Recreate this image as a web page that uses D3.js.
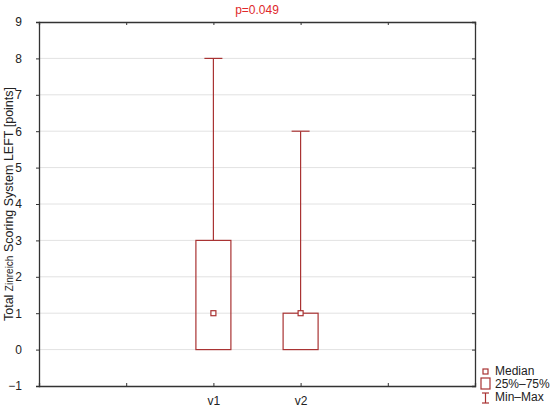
<!DOCTYPE html>
<html>
<head>
<meta charset="utf-8">
<script src="https://cdn.jsdelivr.net/npm/d3@7"></script>
<style>
  body { margin: 0; background: #fff; }
  text { font-family: Arial, "Liberation Sans", sans-serif; }
</style>
</head>
<body>
<svg id="chart" width="550" height="407"></svg>
<script>
// data
const groups = ['v1', 'v2'];
const mins = [0, 0];
const q1s = [0, 0];
const medians = [1, 1];
const q3s = [3, 1];
const maxs = [8, 6];
const yTicks = [-1, 0, 1, 2, 3, 4, 5, 6, 7, 8, 9];
const pLabel = 'p=0.049';

const svg = d3.select('#chart');
const margin = { top: 22, right: 75, bottom: 21, left: 39 };
const width = 550 - margin.left - margin.right;
const height = 407 - margin.top - margin.bottom;
const boxColor = '#a93333';

// x positions: 5 slots, groups sit on slot 2 and 3
const xScale = d3.scaleLinear().domain([0, 5]).range([0, width]);
const slot = (d, i) => i + 2;

const yScale = d3.scaleLinear().domain([-1, 9]).range([height, 0]);

const g = svg.append('g')
  .attr('transform', `translate(${margin.left}, ${margin.top})`);

// gridlines
g.selectAll('.grid')
  .data(yTicks.slice(1, -1))
  .enter()
  .append('line')
  .attr('x1', 0).attr('x2', width)
  .attr('y1', d => yScale(d)).attr('y2', d => yScale(d))
  .attr('stroke', '#e2e2e2')
  .attr('stroke-width', 1);

// axes
g.append('g')
  .call(d3.axisLeft(yScale).tickValues(yTicks).tickSize(3).tickPadding(14));
const xAxis = g.append('g')
  .attr('transform', `translate(0, ${height})`)
  .call(d3.axisBottom(xScale).tickValues([1, 2, 3, 4]).tickSize(-3).tickPadding(10)
    .tickFormat(d => (d === 2 || d === 3) ? groups[d - 2] : ''));
g.append('g')
  .call(d3.axisTop(xScale).tickValues([1, 2, 3, 4]).tickSize(-3).tickFormat(''));
g.append('g')
  .attr('transform', `translate(${width}, 0)`)
  .call(d3.axisRight(yScale).tickValues(yTicks).tickSize(-3).tickFormat(''));

g.selectAll('.domain').attr('stroke', '#333').attr('stroke-width', 1.3);
g.selectAll('.tick line').attr('stroke', '#333');
g.selectAll('.tick text').attr('font-size', 12).attr('fill', '#222');

// whiskers
const boxes = g.selectAll('.box')
  .data(groups)
  .enter()
  .append('g')
  .attr('class', 'box');

boxes.append('line')
  .attr('x1', (d, i) => xScale(slot(d, i))).attr('x2', (d, i) => xScale(slot(d, i)))
  .attr('y1', (d, i) => yScale(maxs[i])).attr('y2', (d, i) => yScale(q3s[i]))
  .attr('stroke', boxColor).attr('stroke-width', 1.2);
boxes.append('line')
  .attr('x1', (d, i) => xScale(slot(d, i)) - 9).attr('x2', (d, i) => xScale(slot(d, i)) + 9)
  .attr('y1', (d, i) => yScale(maxs[i])).attr('y2', (d, i) => yScale(maxs[i]))
  .attr('stroke', boxColor).attr('stroke-width', 1.2);
boxes.append('line')
  .attr('x1', (d, i) => xScale(slot(d, i))).attr('x2', (d, i) => xScale(slot(d, i)))
  .attr('y1', (d, i) => yScale(q1s[i])).attr('y2', (d, i) => yScale(mins[i]))
  .attr('stroke', boxColor).attr('stroke-width', 1.2);

// boxes
boxes.append('rect')
  .attr('x', (d, i) => xScale(slot(d, i)) - 17.5)
  .attr('width', 35)
  .attr('y', (d, i) => yScale(q3s[i]))
  .attr('height', (d, i) => yScale(q1s[i]) - yScale(q3s[i]))
  .attr('fill', 'none')
  .attr('stroke', boxColor).attr('stroke-width', 1.2);

// medians
boxes.append('rect')
  .attr('x', (d, i) => xScale(slot(d, i)) - 2.5)
  .attr('y', (d, i) => yScale(medians[i]) - 2.5)
  .attr('width', 5).attr('height', 5)
  .attr('fill', '#fff')
  .attr('stroke', boxColor).attr('stroke-width', 1.2);

// p value
svg.append('text')
  .attr('x', margin.left + width / 2)
  .attr('y', 14)
  .attr('text-anchor', 'middle')
  .attr('font-size', 12)
  .attr('fill', '#e0282b')
  .text(pLabel);

// y label
const yLabel = svg.append('text')
  .attr('transform', `translate(13, ${margin.top + height / 2}) rotate(-90)`)
  .attr('text-anchor', 'middle')
  .attr('font-size', 12.5)
  .attr('fill', '#222');
yLabel.append('tspan').text('Total ');
yLabel.append('tspan').attr('font-size', 10).text('Zinreich');
yLabel.append('tspan').text(' Scoring System LEFT [points]');

// legend
const legend = svg.append('g').attr('transform', 'translate(480, 365)');
legend.append('rect')
  .attr('x', 3).attr('y', 4).attr('width', 5).attr('height', 5)
  .attr('fill', '#fff').attr('stroke', boxColor).attr('stroke-width', 1.2);
legend.append('rect')
  .attr('x', 1).attr('y', 13).attr('width', 9).attr('height', 11)
  .attr('fill', '#fff').attr('stroke', boxColor).attr('stroke-width', 1.2);
legend.append('line')
  .attr('x1', 5.5).attr('x2', 5.5).attr('y1', 28).attr('y2', 38)
  .attr('stroke', boxColor).attr('stroke-width', 1.2);
legend.append('line')
  .attr('x1', 2).attr('x2', 9).attr('y1', 28).attr('y2', 28)
  .attr('stroke', boxColor).attr('stroke-width', 1.2);
legend.append('line')
  .attr('x1', 2).attr('x2', 9).attr('y1', 38).attr('y2', 38)
  .attr('stroke', boxColor).attr('stroke-width', 1.2);
const legendLabels = ['Median', '25%–75%', 'Min–Max'];
legend.selectAll('.lbl')
  .data(legendLabels)
  .enter()
  .append('text')
  .attr('x', 15)
  .attr('y', (d, i) => 10 + i * 13)
  .attr('font-size', 12)
  .attr('fill', '#222')
  .text(d => d);
</script>
</body>
</html>
